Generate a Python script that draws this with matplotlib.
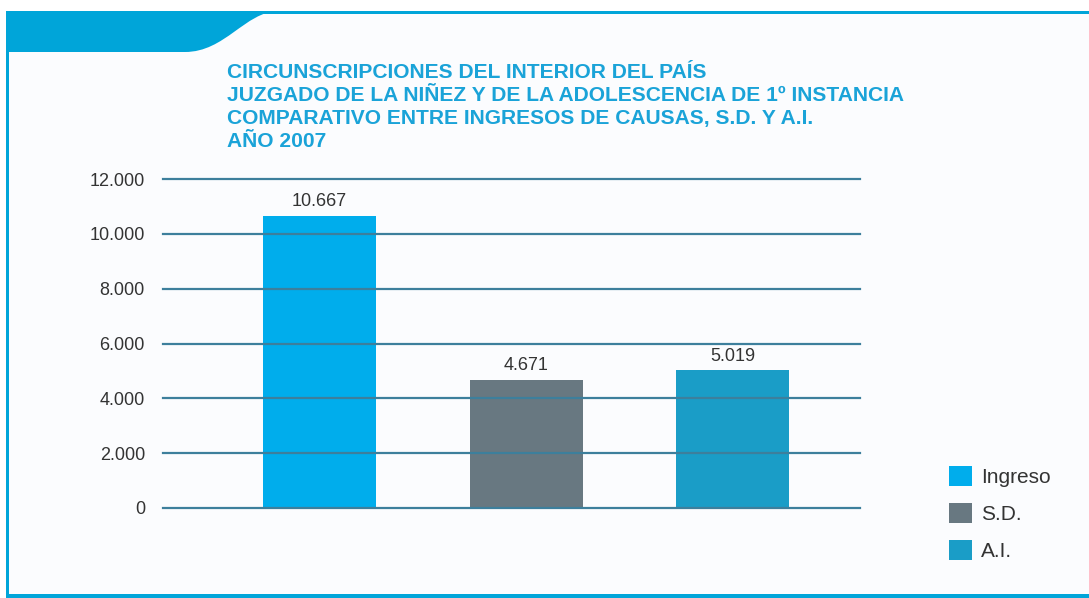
import matplotlib.pyplot as plt
from matplotlib.patches import Rectangle, PathPatch
from matplotlib.path import Path

categorias = ["Ingreso", "S.D.", "A.I."]
valores = [10667, 4671, 5019]
etiquetas = ["10.667", "4.671", "5.019"]
ticks_y = [0, 2000, 4000, 6000, 8000, 10000, 12000]
ticks_txt = ["0", "2.000", "4.000", "6.000", "8.000", "10.000", "12.000"]
colores = ["#00adec", "#687881", "#1a9dc7"]

titulo = ("CIRCUNSCRIPCIONES DEL INTERIOR DEL PAÍS\n"
          "JUZGADO DE LA NIÑEZ Y DE LA ADOLESCENCIA DE 1º INSTANCIA\n"
          "COMPARATIVO ENTRE INGRESOS DE CAUSAS, S.D. Y A.I.\n"
          "AÑO 2007")

plt.rcParams['font.family'] = ['Liberation Sans', 'DejaVu Sans']

W, H = 1089, 598
fig = plt.figure(figsize=(W / 100, H / 100), dpi=100)
fig.patch.set_facecolor("white")

# marco de fondo en coordenadas de pixel (y hacia abajo)
bg = fig.add_axes([0, 0, 1, 1])
bg.set_xlim(0, W)
bg.set_ylim(H, 0)
bg.axis("off")
azul = "#00a5d9"
bg.add_patch(Rectangle((7, 12), W - 7, 584, facecolor="#fbfcfe", edgecolor="none"))
bg.add_patch(Rectangle((6, 11), W - 6, 2.5, facecolor=azul, edgecolor="none"))
bg.add_patch(Rectangle((6, 11), 2.5, 587, facecolor=azul, edgecolor="none"))
bg.add_patch(Rectangle((6, 594), W - 6, 4, facecolor=azul, edgecolor="none"))
# pestaña superior con borde curvo en S
verts = [(6, 11), (278, 11), (245, 12), (225, 52), (185, 52), (6, 52), (6, 11)]
codes = [Path.MOVETO, Path.LINETO, Path.CURVE4, Path.CURVE4, Path.CURVE4,
         Path.LINETO, Path.CLOSEPOLY]
bg.add_patch(PathPatch(Path(verts, codes), facecolor=azul, edgecolor="none"))

fig.text(227 / W, 1 - 63 / H, titulo, ha="left", va="top", color="#1aa3d8",
         fontsize=15.1, fontweight="bold", linespacing=1.27)

ax = fig.add_axes([163 / W, 90 / H, (860 - 163) / W, (508 - 179) / H])
ax.set_facecolor("none")
x = list(range(len(categorias)))
barras = ax.bar(x, valores, width=0.547, color=colores, zorder=2)
for xi, v, t in zip(x, valores, etiquetas):
    ax.annotate(t, (xi, v), xytext=(0, 4), textcoords="offset points",
                ha="center", va="bottom", fontsize=13, color="#333333")
for yt in ticks_y:
    ax.axhline(yt, color="#3d7f9c", linewidth=1.6, zorder=3, clip_on=False)
ax.set_xlim(-0.758, 2.617)
ax.set_ylim(0, 12000)
ax.set_yticks(ticks_y)
ax.set_yticklabels(ticks_txt, fontsize=13, color="#333333")
ax.tick_params(axis="y", length=0, pad=13)
ax.set_xticks([])
for s in ax.spines.values():
    s.set_visible(False)

fig.legend(barras, categorias, loc="upper left",
           bbox_to_anchor=(930 / W, 1 - 447 / H), frameon=False,
           fontsize=15, handlelength=1.1, handleheight=1.1,
           handletextpad=0.45, labelspacing=0.78, labelcolor="#333333")

fig.savefig("out.png", dpi=100, facecolor=fig.get_facecolor())
